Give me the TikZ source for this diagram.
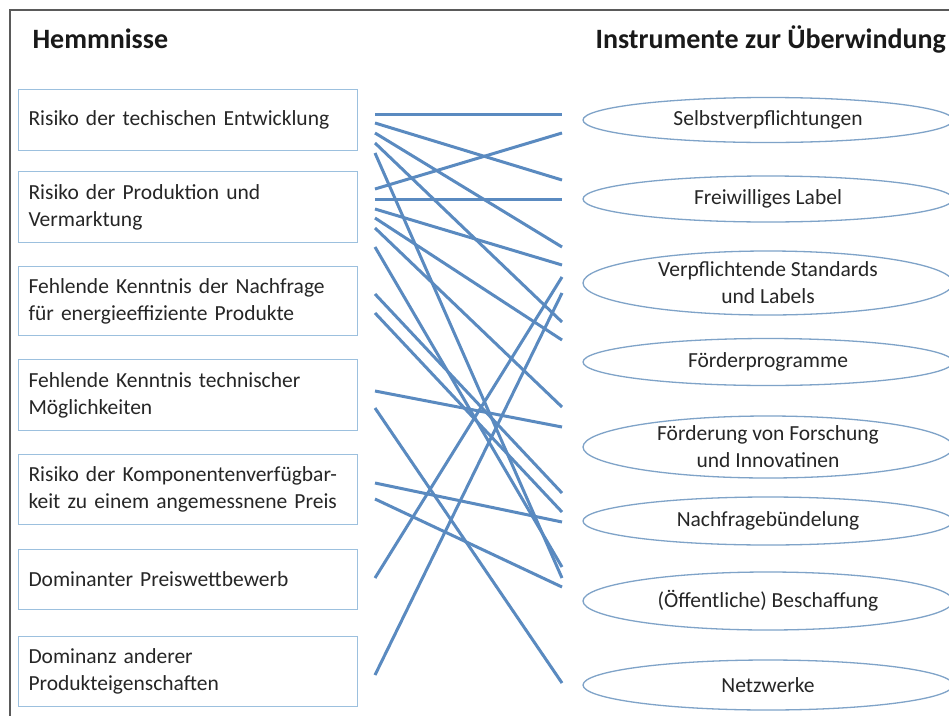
\documentclass[tikz,border=0pt]{standalone}
\usepackage{fontspec}
\setmainfont{Carlito}
\usetikzlibrary{shapes.geometric}
\definecolor{linkblue}{HTML}{5A8AC0}
\definecolor{boxblue}{HTML}{9CC0DE}
\definecolor{ellblue}{HTML}{7FA3C8}
\definecolor{framegray}{HTML}{5A5A5A}
\definecolor{txt}{HTML}{262626}
\begin{document}
\begin{tikzpicture}[x=1pt,y=-1pt,
  hbox/.style={draw=boxblue, line width=1pt, minimum width=339pt, text width=319pt,
    align=left, inner xsep=10pt, inner ysep=0pt, font=\fontsize{21.5}{27}\selectfont,
    text=txt, anchor=north west},
  inst/.style={ellipse, draw=ellblue, line width=1.3pt, minimum width=370pt,
    align=center, inner sep=0pt, font=\fontsize{21.5}{27}\selectfont, text=txt},
  head/.style={anchor=base west, font=\fontsize{28}{32}\selectfont\bfseries, text=black!90},
  link/.style={draw=linkblue, line width=3pt}]
\useasboundingbox (0,0) rectangle (949,715);
\clip (0,0) rectangle (949,715);
\fill[white] (0,0) rectangle (949,715);

% outer frame
\draw[framegray, line width=2pt] (10,725) -- (10,10) -- (960,10);

% column headings
\node[head] (hh) at (29,48) {Hemmnisse};
\node[head] (hi) at (592,48) {Instrumente zur Überwindung};

% barriers
\node[hbox, minimum height=61pt] (h1) at (18,89) {Risiko der techischen Entwicklung};
\node[hbox, minimum height=71pt] (h2) at (18,171) {Risiko der Produktion und\\Vermarktung};
\node[hbox, minimum height=69pt] (h3) at (18,266) {Fehlende Kenntnis der Nachfrage\\für energieeffiziente Produkte};
\node[hbox, minimum height=71pt] (h4) at (18,359) {Fehlende Kenntnis technischer\\Möglichkeiten};
\node[hbox, minimum height=70pt] (h5) at (18,454) {Risiko der Komponentenverfügbar-\\keit zu einem angemessnene Preis};
\node[hbox, minimum height=60pt] (h6) at (18,549) {Dominanter Preiswettbewerb};
\node[hbox, minimum height=70pt] (h7) at (18,636) {Dominanz anderer\\Produkteigenschaften};

% instruments
\node[inst, minimum height=45pt] (i1) at (768,120) {Selbstverpflichtungen};
\node[inst, minimum height=46pt] (i2) at (768,199) {Freiwilliges Label};
\node[inst, minimum height=64pt] (i3) at (768,283) {Verpflichtende Standards\\und Labels};
\node[inst, minimum height=47pt] (i4) at (768,362) {Förderprogramme};
\node[inst, minimum height=62pt] (i5) at (768,447) {Förderung von Forschung\\und Innovatinen};
\node[inst, minimum height=48pt] (i6) at (768,521) {Nachfragebündelung};
\node[inst, minimum height=58pt] (i7) at (768,601) {(Öffentliche) Beschaffung};
\node[inst, minimum height=50pt] (i8) at (768,685) {Netzwerke};

% connector ends
\foreach \n/\ya/\yb in {1/114/114, 2/123/180, 3/133/247, 4/143/322, 5/153/578,
    6/189/133, 7/199/199, 8/209/265, 9/218/340, 10/228/407, 11/247/567,
    12/294/493, 13/313/512, 14/391/427, 15/408/683, 16/483/522, 17/499/587,
    18/578/277, 19/675/293}{
  \coordinate (s\n) at (375,\ya);
  \coordinate (e\n) at (562,\yb);
}
% connectors
\foreach \n in {1,...,19}{
  \draw[link] (s\n) -- (e\n);
}
\end{tikzpicture}
\end{document}
